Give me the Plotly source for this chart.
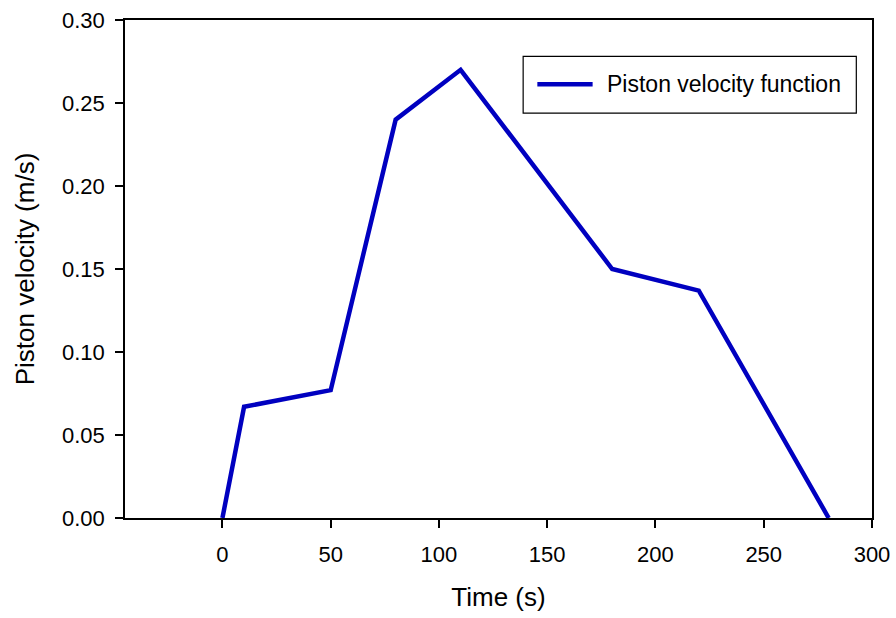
import plotly.graph_objects as go

# Piston velocity profile over the stroke
time_s = [0, 10, 50, 80, 110, 180, 220, 280]
velocity_ms = [0.0, 0.067, 0.077, 0.24, 0.27, 0.15, 0.137, 0.0]

x_ticks = [0, 50, 100, 150, 200, 250, 300]
y_ticks = [0.0, 0.05, 0.10, 0.15, 0.20, 0.25, 0.30]

series_name = "Piston velocity function"
line_color = "#0000C0"
font_family = "Liberation Sans, Arial, sans-serif"

fig = go.Figure()
fig.add_trace(go.Scatter(
    x=time_s, y=velocity_ms, mode="lines", name=series_name,
    line=dict(color=line_color, width=4.5), showlegend=False,
))

axis_common = dict(
    showline=True, linecolor="black", linewidth=1.5, mirror=True,
    ticks="outside", ticklen=8, tickwidth=1.5, tickcolor="black",
    showgrid=False, zeroline=False, automargin=False,
    tickfont=dict(family=font_family, size=22, color="black"),
)

fig.update_xaxes(
    range=[-45, 300], tickvals=x_ticks, ticktext=[str(v) for v in x_ticks],
    title=dict(text="Time (s)", font=dict(family=font_family, size=26, color="black"), standoff=22),
    ticklabelstandoff=8,
    **axis_common,
)
fig.update_yaxes(
    range=[0, 0.30], tickvals=y_ticks, ticktext=[f"{v:.2f}" for v in y_ticks],
    title=dict(text="Piston velocity (m/s)", font=dict(family=font_family, size=26, color="black"), standoff=20),
    ticklabelstandoff=6,
    **axis_common,
)

# Boxed legend in the upper right of the plotting area
fig.add_shape(type="rect", xref="paper", yref="paper",
              x0=0.533, x1=0.979, y0=0.813, y1=0.927,
              line=dict(color="black", width=1.2), fillcolor="white")
fig.add_shape(type="line", xref="paper", yref="paper",
              x0=0.552, x1=0.626, y0=0.871, y1=0.871,
              line=dict(color=line_color, width=4.5))
fig.add_annotation(xref="paper", yref="paper", x=0.642, y=0.871,
                   xanchor="left", yanchor="middle", showarrow=False,
                   text=series_name,
                   font=dict(family=font_family, size=23, color="black"))

fig.update_layout(
    width=896, height=618,
    margin=dict(l=125, r=24, t=20, b=100),
    paper_bgcolor="white", plot_bgcolor="white",
    font=dict(family=font_family, color="black"),
)

fig.write_html("out.html")
